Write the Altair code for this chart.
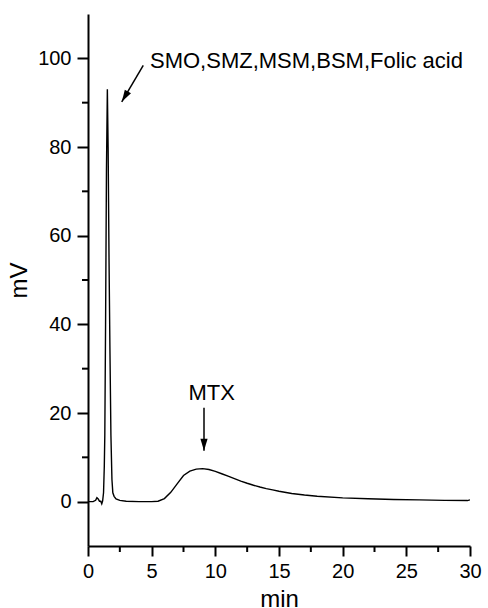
import altair as alt
import pandas as pd

# chromatogram trace (min, mV)
time_min = [0, 0.4, 0.6, 0.7, 0.8, 0.9, 1.0, 1.08, 1.15, 1.22, 1.28, 1.32, 1.38, 1.45,
            1.52, 1.58, 1.65, 1.72, 1.8, 1.88, 1.95, 2.05, 2.2, 2.5, 3.0, 4.0, 5.0, 5.5,
            6.0, 6.5, 7.0, 7.5, 8.0, 8.5, 9.0, 9.5, 10.0, 10.5, 11.0, 11.5, 12.0, 12.5,
            13.0, 13.5, 14.0, 14.5, 15.0, 16.0, 17.0, 18.0, 20.0, 22.0, 24.0, 26.0,
            28.0, 29.8, 30.0]
signal_mv = [0, 0, 0.3, 0.9, 0.6, 0.1, 0.1, -0.5, 0.2, 2, 8, 15, 40, 75,
             93, 80, 55, 35, 15, 5, 2, 1.2, 0.6, 0.3, 0.1, 0, 0, 0.1,
             0.7, 2.1, 4.0, 5.9, 6.9, 7.35, 7.45, 7.25, 6.85, 6.3, 5.75, 5.2, 4.65, 4.15,
             3.7, 3.3, 2.95, 2.65, 2.35, 1.85, 1.5, 1.22, 0.85, 0.65, 0.5, 0.4,
             0.3, 0.25, 0.4]

x_major = [0, 5, 10, 15, 20, 25, 30]
x_minor = [2.5, 7.5, 12.5, 17.5, 22.5, 27.5]
y_major = [0, 20, 40, 60, 80, 100]
y_minor = [10, 30, 50, 70, 90]

# annotations
ann_labels = ["SMO,SMZ,MSM,BSM,Folic acid", "MTX"]
ann_text_x = [4.87, 9.71]
ann_text_y = [99.4, 24.6]
ann_align = ["left", "center"]
arrow_tail_x = [4.34, 9.11]
arrow_tail_y = [98.4, 21.2]
arrow_tip_x = [2.65, 9.11]
arrow_tip_y = [90.2, 11.5]
arrow_angle = [211, 180]

trace = pd.DataFrame({"t": time_min, "v": signal_mv})
ann = pd.DataFrame({
    "label": ann_labels, "tx": ann_text_x, "ty": ann_text_y, "align": ann_align,
    "x0": arrow_tail_x, "y0": arrow_tail_y, "x1": arrow_tip_x, "y1": arrow_tip_y,
    "angle": arrow_angle,
})

FONT = "Liberation Sans"
xscale = alt.Scale(domain=[0, 30], nice=False, zero=False)
yscale = alt.Scale(domain=[-10, 110], nice=False, zero=False)

line = alt.Chart(trace).mark_line(color="black", strokeWidth=1.4, clip=True).encode(
    x=alt.X("t:Q", scale=xscale, title="min",
            axis=alt.Axis(values=x_major, grid=False, tickSize=10, tickWidth=2,
                          domainWidth=2, domainColor="black", tickColor="black",
                          labelFontSize=20, labelFont=FONT, labelColor="black",
                          labelPadding=5, titleFont=FONT, titleFontSize=24,
                          titleFontWeight="normal", titleColor="black", titlePadding=6,
                          labelFlush=False)),
    y=alt.Y("v:Q", scale=yscale, title="mV",
            axis=alt.Axis(values=y_major, grid=False, tickSize=11, tickWidth=2,
                          domainWidth=2, domainColor="black", tickColor="black",
                          labelFontSize=20, labelFont=FONT, labelColor="black",
                          labelPadding=6, titleFont=FONT, titleFontSize=24,
                          titleFontWeight="normal", titleColor="black", titlePadding=6,
                          labelFlush=False)),
)

xminor = alt.Chart(pd.DataFrame({"m": x_minor})).mark_rule(color="black", strokeWidth=2).encode(
    x=alt.X("m:Q", scale=xscale), y=alt.value(532), y2=alt.value(538))
yminor = alt.Chart(pd.DataFrame({"m": y_minor})).mark_rule(color="black", strokeWidth=2).encode(
    y=alt.Y("m:Q", scale=yscale), x=alt.value(-6), x2=alt.value(0))

base_ann = alt.Chart(ann)
text_left = base_ann.transform_filter("datum.align == 'left'").mark_text(
    align="left", baseline="middle", font=FONT, fontSize=22, color="black").encode(
    x=alt.X("tx:Q", scale=xscale), y=alt.Y("ty:Q", scale=yscale), text="label:N")
text_center = base_ann.transform_filter("datum.align == 'center'").mark_text(
    align="center", baseline="middle", font=FONT, fontSize=22, color="black").encode(
    x=alt.X("tx:Q", scale=xscale), y=alt.Y("ty:Q", scale=yscale), text="label:N")
shafts = base_ann.mark_rule(color="black", strokeWidth=1.5).encode(
    x=alt.X("x0:Q", scale=xscale), y=alt.Y("y0:Q", scale=yscale),
    x2="x1:Q", y2="y1:Q")
heads = base_ann.mark_point(shape="M0,0L-0.6,2L0.6,2Z", filled=True, color="black",
                            opacity=1, size=144).encode(
    x=alt.X("x1:Q", scale=xscale), y=alt.Y("y1:Q", scale=yscale),
    angle=alt.Angle("angle:Q", scale=None))

chart = alt.layer(line, xminor, yminor, shafts, heads, text_left, text_center).properties(
    width=382, height=532,
    padding={"left": 88, "top": 14, "right": 18, "bottom": 62},
    autosize="none",
    background="white",
).configure_view(stroke=None)

chart.save("out.html", embed_options={"renderer": "svg", "actions": False})
